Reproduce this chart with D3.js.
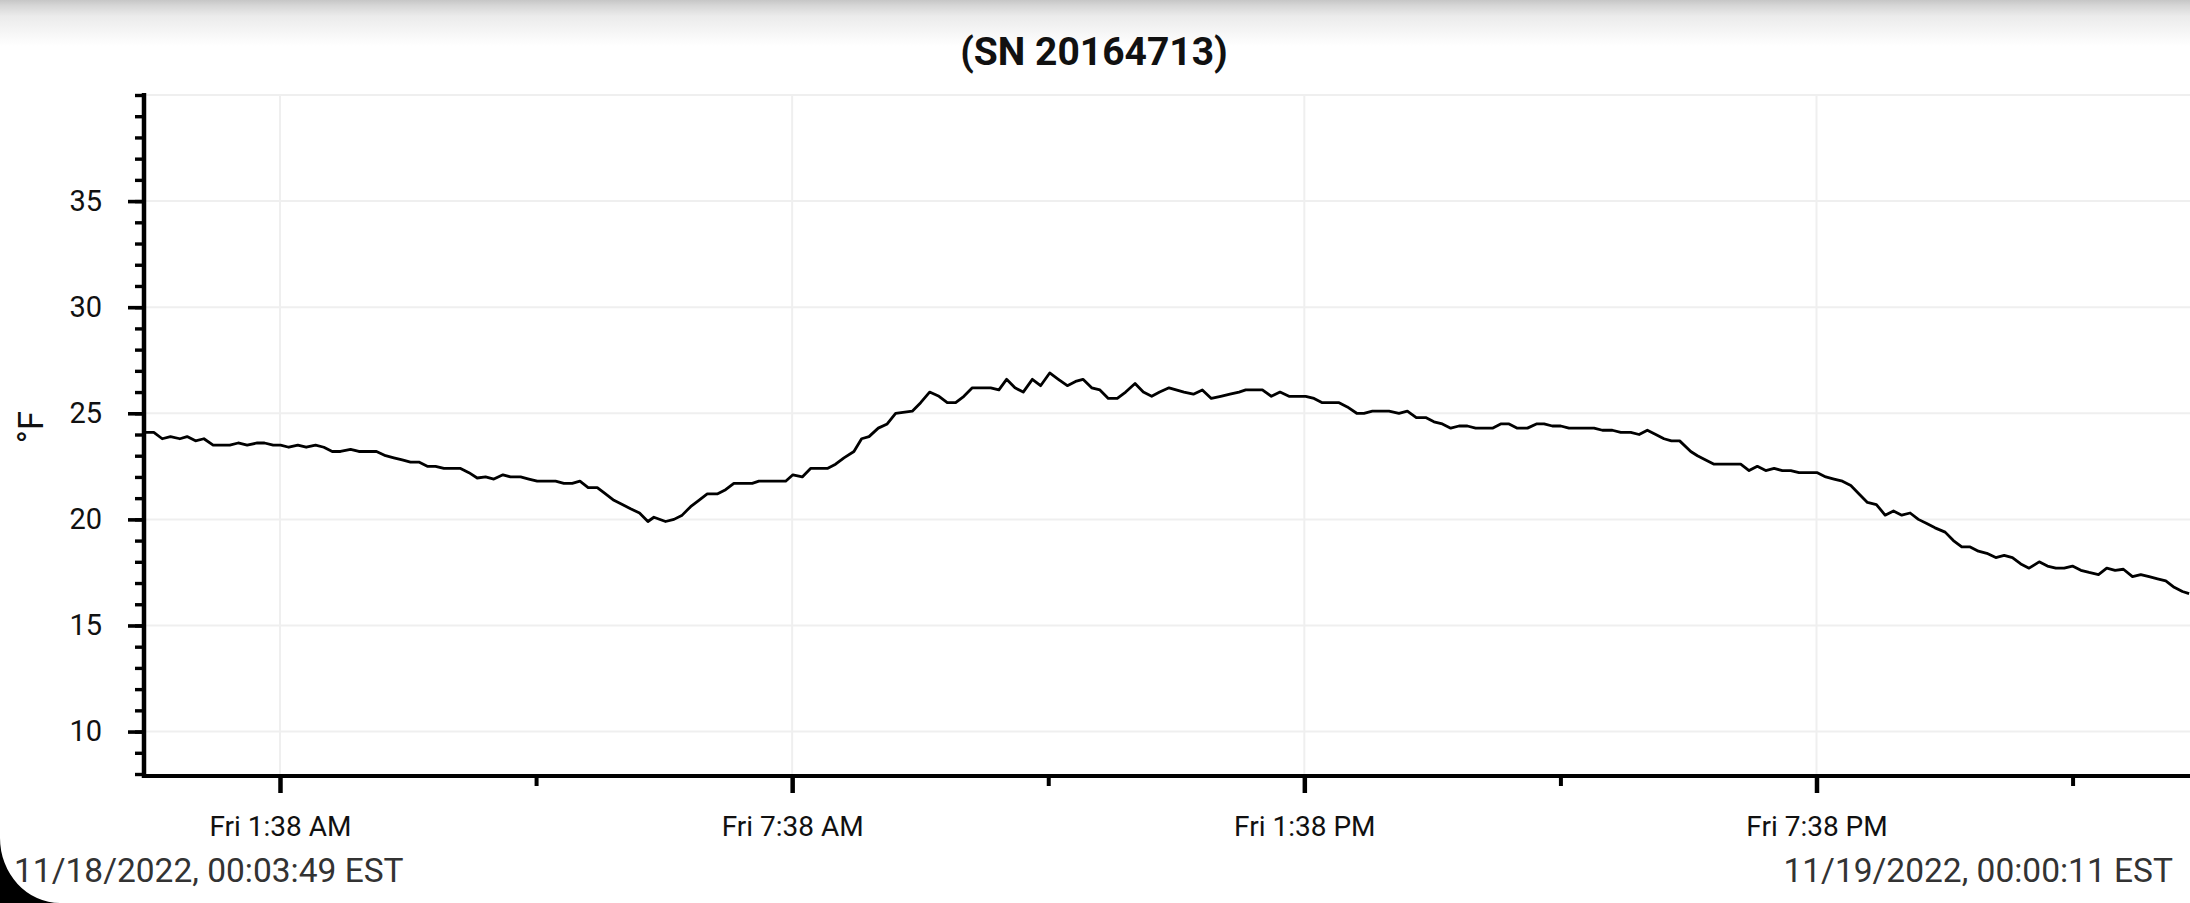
<!DOCTYPE html>
<html>
<head>
<meta charset="utf-8">
<script src="https://cdn.jsdelivr.net/npm/d3@7"></script>
<style>
  body { margin: 0; background: #fff; }
  svg { display: block; font-family: Roboto, "Noto Sans", sans-serif; }
</style>
</head>
<body>
<div class="canvas"></div>
<script>
// logger run: start / end of the record
const startStamp = '2022-11-18 00:03:49';
const endStamp = '2022-11-19 00:00:11';
const titleText = '(SN 20164713)';
const yLabel = '°F';
const footLeft = '11/18/2022, 00:03:49 EST';
const footRight = '11/19/2022, 00:00:11 EST';

// minutes since start of record
const minutes = [
  0, 5.5, 11.4, 17.2, 23.8, 28.9, 34.8, 40.7, 47.2, 53.5,
  58.9, 64.8, 71.1, 78.2, 83.3, 89.4, 94.6, 100.4, 106.7, 112.6,
  119.2, 125.0, 130.9, 136.7, 143.8, 149.6, 155.5, 162.0, 168.4, 174.2,
  180.1, 185.9, 191.8, 197.7, 203.5, 209.4, 221.1, 227.0, 232.8, 238.7,
  244.5, 250.9, 256.2, 263.3, 269.1, 275.0, 280.8, 287.9, 293.7, 299.6,
  305.0, 310.8, 317.2, 323.0, 328.9, 334.8, 340.6, 346.9, 352.8, 357.0,
  365.2, 371.1, 376.9, 382.8, 388.6, 394.5, 401.5, 407.4, 413.2, 426.1,
  430.8, 449.6, 454.7, 461.3, 467.1, 478.9, 484.7, 490.6, 497.6, 503.0,
  508.2, 514.7, 521.0, 526.9, 538.6, 544.5, 550.8, 557.4, 563.2, 569.1,
  574.9, 580.8, 593.7, 599.5, 604.9, 610.8, 616.6, 623.0, 628.8, 635.2,
  641.3, 647.6, 653.4, 658.6, 664.7, 670.5, 676.4, 682.7, 688.6, 695.2,
  701.0, 706.9, 712.5, 719.1,
  729.6, 736.2, 742.5, 748.8, 755.4, 761.9, 768.3, 773.0, 784.7, 791.0,
  797.1, 803.4, 815.1, 821.0, 826.8, 838.6, 844.4, 851.0, 856.1, 862.0,
  873.7, 880.7, 886.6, 892.9, 899.5, 905.3, 911.2, 917.1, 922.9, 928.8,
  934.6, 946.4, 952.2, 958.1, 963.9, 971.0, 977.3, 982.7, 988.5, 994.4,
  1000.2, 1017.8, 1023.7, 1030.7, 1036.6, 1043.6, 1049.5, 1055.3, 1061.2, 1067.0,
  1072.2, 1078.0, 1085.8,
  1090.5, 1096.3, 1102.2, 1120.9, 1126.8, 1132.6, 1138.5, 1144.4, 1150.2, 1156.1,
  1161.9, 1174.8, 1180.7, 1186.5, 1192.4, 1198.3, 1204.1, 1210.0, 1216.3, 1222.4,
  1228.3, 1234.1, 1240.0, 1245.8, 1251.7, 1257.5, 1264.6, 1270.4, 1276.3, 1282.2,
  1288.0, 1293.9, 1300.2, 1306.1, 1311.9, 1317.8, 1323.6, 1330.7, 1336.5, 1342.4,
  1348.3, 1354.1, 1360.0, 1365.8, 1372.4, 1378.2, 1384.1, 1389.9, 1396.3, 1402.1,
  1408.0, 1413.9, 1419.7, 1425.6, 1431.4, 1436.1
];

// temperature readings, °F
const tempF = [
  24.1, 24.1, 23.8, 23.9, 23.8, 23.9, 23.7, 23.8, 23.5, 23.5,
  23.5, 23.6, 23.5, 23.6, 23.6, 23.5, 23.5, 23.4, 23.5, 23.4,
  23.5, 23.4, 23.2, 23.2, 23.3, 23.2, 23.2, 23.2, 23.0, 22.9,
  22.8, 22.7, 22.7, 22.5, 22.5, 22.4, 22.4, 22.2, 21.95, 22.0,
  21.9, 22.1, 22.0, 22.0, 21.9, 21.8, 21.8, 21.8, 21.7, 21.7,
  21.8, 21.5, 21.5, 21.2, 20.9, 20.7, 20.5, 20.3, 19.9, 20.1,
  19.9, 20.0, 20.2, 20.6, 20.9, 21.2, 21.2, 21.4, 21.7, 21.7,
  21.8, 21.8, 22.1, 22.0, 22.4, 22.4, 22.6, 22.9, 23.2, 23.8,
  23.9, 24.3, 24.5, 25.0, 25.1, 25.5, 26.0, 25.8, 25.5, 25.5,
  25.8, 26.2, 26.2, 26.1, 26.6, 26.2, 26.0, 26.6, 26.3, 26.9,
  26.6, 26.3, 26.5, 26.6, 26.2, 26.1, 25.7, 25.7, 26.0, 26.4,
  26.0, 25.8, 26.0, 26.2,
  26.0, 25.9, 26.1, 25.7, 25.8, 25.9, 26.0, 26.1, 26.1, 25.8,
  26.0, 25.8, 25.8, 25.7, 25.5, 25.5, 25.3, 25.0, 25.0, 25.1,
  25.1, 25.0, 25.1, 24.8, 24.8, 24.6, 24.5, 24.3, 24.4, 24.4,
  24.3, 24.3, 24.5, 24.5, 24.3, 24.3, 24.5, 24.5, 24.4, 24.4,
  24.3, 24.3, 24.2, 24.2, 24.1, 24.1, 24.0, 24.2, 24.0, 23.8,
  23.7, 23.7, 23.2,
  23.0, 22.8, 22.6, 22.6, 22.3, 22.5, 22.3, 22.4, 22.3, 22.3,
  22.2, 22.2, 22.0, 21.9, 21.8, 21.6, 21.2, 20.8, 20.7, 20.2,
  20.4, 20.2, 20.3, 20.0, 19.8, 19.6, 19.4, 19.0, 18.7, 18.7,
  18.5, 18.4, 18.2, 18.3, 18.2, 17.9, 17.7, 18.0, 17.8, 17.7,
  17.7, 17.8, 17.6, 17.5, 17.4, 17.7, 17.6, 17.65, 17.3, 17.4,
  17.3, 17.2, 17.1, 16.8, 16.6, 16.5
];

// axis ticks
const xMajorTicks = ['2022-11-18 01:38', '2022-11-18 07:38', '2022-11-18 13:38', '2022-11-18 19:38'];
const xMinorTicks = ['2022-11-18 04:38', '2022-11-18 10:38', '2022-11-18 16:38', '2022-11-18 22:38'];
const yMajorTicks = [10, 15, 20, 25, 30, 35];
const yGridTicks = [10, 15, 20, 25, 30, 35, 40];
const yMinorTicks = [8, 9, 10, 11, 12, 13, 14, 15, 16, 17, 18, 19, 20, 21, 22, 23, 24,
  25, 26, 27, 28, 29, 30, 31, 32, 33, 34, 35, 36, 37, 38, 39, 40];
const yDomain = [8, 40];

const W = 2190, H = 903;
const parseStamp = d3.timeParse('%Y-%m-%d %H:%M:%S');
const parseTick = d3.timeParse('%Y-%m-%d %H:%M');
const t0 = parseStamp(startStamp);
const t1 = parseStamp(endStamp);

const data = minutes.map((m, i) => ({ t: new Date(t0.getTime() + m * 60000), v: tempF[i] }));

const svg = d3.select('.canvas')
    .append('svg')
    .attr('width', W)
    .attr('height', H);

// top shadow band
const defs = svg.append('defs');
const grad = defs.append('linearGradient')
    .attr('id', 'topShade')
    .attr('x1', 0).attr('y1', 0).attr('x2', 0).attr('y2', 1);
grad.append('stop').attr('offset', '0%').attr('stop-color', '#c6c6c6');
grad.append('stop').attr('offset', '12%').attr('stop-color', '#d6d6d6');
grad.append('stop').attr('offset', '35%').attr('stop-color', '#ebebeb');
grad.append('stop').attr('offset', '100%').attr('stop-color', '#ffffff');
svg.append('rect')
    .attr('x', 0).attr('y', 0)
    .attr('width', W).attr('height', 46)
    .attr('fill', 'url(#topShade)');

const x = d3.scaleTime()
    .domain([t0, t1])
    .range([146, 2189.5]);

const y = d3.scaleLinear()
    .domain(yDomain)
    .range([774, 95]);

// grid
const grid = svg.append('g');
grid.selectAll('.hgrid')
    .data(yGridTicks)
    .enter().append('line')
    .attr('x1', 146).attr('x2', W)
    .attr('y1', d => y(d)).attr('y2', d => y(d))
    .attr('stroke', '#efefef')
    .attr('stroke-width', 2);
grid.selectAll('.vgrid')
    .data(xMajorTicks.map(parseTick))
    .enter().append('line')
    .attr('x1', d => x(d)).attr('x2', d => x(d))
    .attr('y1', y(40)).attr('y2', y(8))
    .attr('stroke', '#efefef')
    .attr('stroke-width', 2);

// temperature line
const line = d3.line()
    .x(d => x(d.t))
    .y(d => y(d.v));

svg.append('path')
    .datum(data)
    .attr('d', line)
    .attr('fill', 'none')
    .attr('stroke', '#000')
    .attr('stroke-width', 2.8)
    .attr('stroke-linejoin', 'round');

// y axis (minor then major)
const yMinorAxis = d3.axisLeft(y)
    .tickValues(yMinorTicks)
    .tickSize(9)
    .tickSizeOuter(0)
    .tickFormat('');
const yMinorGroup = svg.append('g')
    .attr('transform', 'translate(144,0)')
    .call(yMinorAxis);
yMinorGroup.select('.domain').remove();
yMinorGroup.selectAll('line').attr('stroke', '#000').attr('stroke-width', 3.4);

const yAxis = d3.axisLeft(y)
    .tickValues(yMajorTicks)
    .tickSize(16)
    .tickSizeOuter(0)
    .tickPadding(26);
const yAxisGroup = svg.append('g')
    .attr('transform', 'translate(144,0)')
    .call(yAxis);
yAxisGroup.select('.domain').remove();
yAxisGroup.selectAll('line').attr('stroke', '#000').attr('stroke-width', 3.6);
yAxisGroup.selectAll('text')
    .attr('font-family', 'Roboto, sans-serif')
    .attr('font-size', 29)
    .attr('fill', '#111');

// x axis (minor then major)
const xMinorAxis = d3.axisBottom(x)
    .tickValues(xMinorTicks.map(parseTick))
    .tickSize(10)
    .tickSizeOuter(0)
    .tickFormat('');
const xMinorGroup = svg.append('g')
    .attr('transform', 'translate(0,776)')
    .call(xMinorAxis);
xMinorGroup.select('.domain').remove();
xMinorGroup.selectAll('line').attr('stroke', '#000').attr('stroke-width', 4);

const xAxis = d3.axisBottom(x)
    .tickValues(xMajorTicks.map(parseTick))
    .tickSize(17)
    .tickSizeOuter(0)
    .tickPadding(23)
    .tickFormat(d3.timeFormat('%a %-I:%M %p'));
const xAxisGroup = svg.append('g')
    .attr('transform', 'translate(0,776)')
    .call(xAxis);
xAxisGroup.select('.domain').remove();
xAxisGroup.selectAll('line').attr('stroke', '#000').attr('stroke-width', 4.5);
xAxisGroup.selectAll('text')
    .attr('font-family', 'Roboto, sans-serif')
    .attr('font-size', 28)
    .attr('fill', '#111');

// axis lines
svg.append('line')
    .attr('x1', 144).attr('x2', 144)
    .attr('y1', 93).attr('y2', 778)
    .attr('stroke', '#000').attr('stroke-width', 4.5);
svg.append('line')
    .attr('x1', 142).attr('x2', W)
    .attr('y1', 776).attr('y2', 776)
    .attr('stroke', '#000').attr('stroke-width', 4.2);

// texts
svg.append('text')
    .attr('x', 1094).attr('y', 65)
    .attr('text-anchor', 'middle')
    .attr('font-size', 39)
    .attr('font-weight', 'bold')
    .attr('fill', '#111')
    .text(titleText);

svg.append('text')
    .attr('transform', 'translate(43,427) rotate(-90)')
    .attr('text-anchor', 'middle')
    .attr('font-size', 35)
    .attr('fill', '#111')
    .text(yLabel);

svg.append('text')
    .attr('x', 14).attr('y', 882)
    .attr('font-size', 33.5)
    .attr('fill', '#333')
    .text(footLeft);

svg.append('text')
    .attr('x', 2173).attr('y', 882)
    .attr('text-anchor', 'end')
    .attr('font-size', 33.5)
    .attr('fill', '#333')
    .text(footRight);

// dark rounded corner bottom-left
svg.append('path')
    .attr('d', 'M0,838 A60,65 0 0 0 60,903 L0,903 Z')
    .attr('fill', '#000');
</script>
</body>
</html>
